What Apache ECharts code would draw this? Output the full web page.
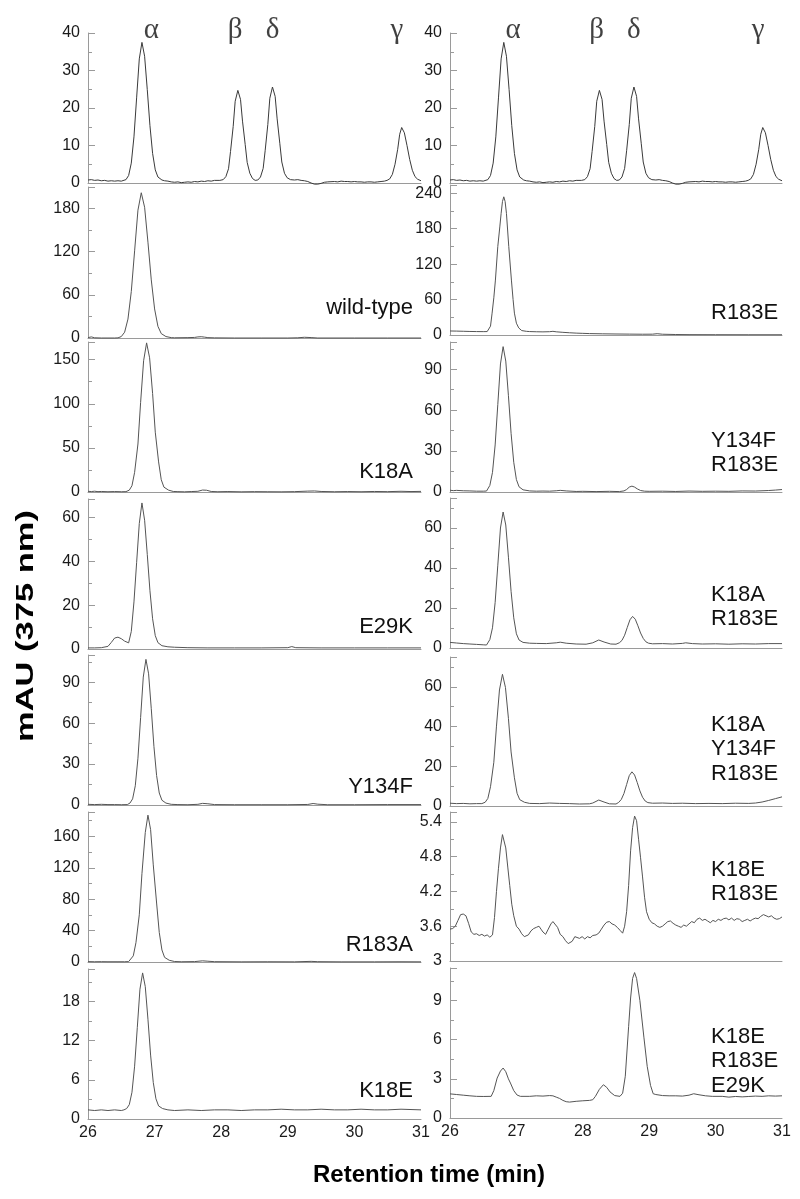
<!DOCTYPE html>
<html><head><meta charset="utf-8">
<script src="https://cdn.jsdelivr.net/npm/echarts@6.0.0/dist/echarts.min.js"></script>
<style>html,body{margin:0;padding:0;background:#fff}#c{width:800px;height:1199px}</style>
</head><body><div id="c"></div>
<script>
// ---------- DATA (retention time in min, absorbance in mAU) ----------
const standards = [[26.00,0.8],[26.05,0.9],[26.10,0.7],[26.15,0.8],[26.20,0.6],[26.25,0.7],[26.30,0.5],[26.35,0.6],[26.40,0.5],[26.45,0.6],[26.50,0.5],[26.53,0.5],[26.57,0.9],[26.61,2.0],[26.65,5.3],[26.69,12.3],[26.73,22.7],[26.77,33.1],[26.81,37.5],[26.85,33.8],[26.89,24.9],[26.93,15.3],[26.97,7.9],[27.01,3.5],[27.05,1.6],[27.11,0.8],[27.15,0.6],[27.20,0.5],[27.25,0.3],[27.30,0.2],[27.35,0.3],[27.40,0.1],[27.45,0.2],[27.50,0.3],[27.55,0.2],[27.60,0.4],[27.65,0.3],[27.70,0.5],[27.75,0.4],[27.80,0.6],[27.85,0.5],[27.90,0.7],[27.98,0.7],[28.03,0.9],[28.07,1.7],[28.11,3.8],[28.14,8.4],[28.18,15.1],[28.21,21.8],[28.25,24.7],[28.29,22.3],[28.32,16.5],[28.36,10.3],[28.39,5.5],[28.43,2.6],[28.47,1.2],[28.51,0.7],[28.55,0.8],[28.59,1.6],[28.63,3.9],[28.66,8.6],[28.70,15.6],[28.73,22.6],[28.77,25.6],[28.81,23.1],[28.84,17.1],[28.88,10.6],[28.91,5.6],[28.95,2.6],[28.99,1.4],[29.04,0.9],[29.10,0.8],[29.15,0.9],[29.20,0.7],[29.25,0.6],[29.30,0.4],[29.35,0.0],[29.40,-0.3],[29.45,-0.3],[29.50,-0.1],[29.55,0.2],[29.60,0.3],[29.70,0.4],[29.75,0.3],[29.80,0.5],[29.85,0.4],[29.90,0.4],[29.95,0.3],[30.00,0.4],[30.05,0.3],[30.10,0.3],[30.15,0.2],[30.20,0.3],[30.25,0.3],[30.30,0.2],[30.35,0.3],[30.40,0.4],[30.45,0.5],[30.49,0.7],[30.53,1.1],[30.57,2.3],[30.61,5.0],[30.65,9.0],[30.68,13.0],[30.71,14.8],[30.75,13.4],[30.79,10.0],[30.83,6.3],[30.87,3.4],[30.91,1.7],[30.95,1.0],[31.00,0.6]];

const wildType = [[26.00,0.5],[26.05,1.5],[26.10,0.3],[26.20,0.0],[26.30,0.0],[26.40,0.0],[26.45,0.2],[26.50,2.0],[26.55,8.1],[26.60,26.3],[26.65,64.6],[26.70,121.2],[26.75,177.8],[26.80,202],[26.85,181.8],[26.90,133.3],[26.95,80.8],[27.00,40.4],[27.05,16.2],[27.10,6.1],[27.17,2.0],[27.25,0.5],[27.30,0.3],[27.50,0.5],[27.60,0.8],[27.65,1.5],[27.70,1.8],[27.75,1.2],[27.80,0.5],[27.90,0.2],[28.20,0.0],[28.60,0.0],[29.00,0.0],[29.15,0.3],[29.25,1.0],[29.35,0.6],[29.45,0.0],[30.00,0.0],[30.50,0.0],[31.00,0.0]];

const k18a = [[26.00,0.8],[26.05,0.5],[26.10,0.9],[26.15,0.4],[26.20,0.6],[26.30,0.3],[26.40,0.5],[26.50,0.3],[26.57,0.4],[26.62,2.1],[26.66,7.1],[26.70,22.3],[26.75,54.4],[26.79,101.6],[26.835,148.8],[26.88,169],[26.925,152.1],[26.97,111.7],[27.01,67.8],[27.06,34.1],[27.10,13.9],[27.14,5.5],[27.21,2.1],[27.28,0.6],[27.35,0.4],[27.45,0.2],[27.55,0.5],[27.65,0.8],[27.72,2.2],[27.78,2.0],[27.85,0.6],[27.95,0.3],[28.10,0.5],[28.30,0.2],[28.50,0.4],[28.70,0.3],[28.90,0.2],[29.10,0.4],[29.30,1.0],[29.40,1.2],[29.50,0.6],[29.70,0.3],[29.90,0.5],[30.10,0.3],[30.30,0.6],[30.50,0.4],[30.70,0.8],[30.85,0.5],[31.00,0.7]];

const e29k = [[26.00,0.5],[26.10,0.5],[26.20,0.6],[26.30,1.2],[26.35,3.0],[26.40,5.0],[26.45,5.4],[26.50,4.7],[26.55,3.6],[26.61,2.8],[26.65,8.0],[26.69,21.5],[26.73,39.4],[26.77,57.3],[26.81,66.7],[26.85,58.8],[26.89,43.2],[26.93,26.6],[26.97,13.8],[27.01,6.1],[27.05,2.9],[27.11,1.5],[27.20,1.0],[27.30,0.8],[27.50,0.6],[27.80,0.5],[28.20,0.5],[28.60,0.5],[29.00,0.6],[29.06,1.1],[29.12,0.6],[29.50,0.5],[30.00,0.5],[30.50,0.5],[31.00,0.5]];

const y134f = [[26.00,0.5],[26.10,0.3],[26.20,0.5],[26.30,0.3],[26.40,0.3],[26.50,0.2],[26.59,0.3],[26.63,1.4],[26.67,4.5],[26.71,14.1],[26.75,34.3],[26.79,64.1],[26.83,93.8],[26.87,106.8],[26.91,96.2],[26.95,70.6],[26.99,42.9],[27.03,21.6],[27.07,8.8],[27.11,3.5],[27.17,1.4],[27.25,0.5],[27.35,0.3],[27.50,0.2],[27.65,0.5],[27.72,1.2],[27.80,0.9],[27.90,0.3],[28.20,0.2],[28.60,0.2],[29.00,0.2],[29.30,0.4],[29.38,1.1],[29.45,0.6],[29.60,0.2],[30.00,0.2],[30.50,0.3],[31.00,0.3]];

const r183a = [[26.00,0.5],[26.10,0.3],[26.20,0.4],[26.30,0.3],[26.45,0.3],[26.55,0.3],[26.61,0.5],[26.64,2.2],[26.68,7.8],[26.72,24.6],[26.77,60.1],[26.81,112.5],[26.86,164.9],[26.90,187],[26.94,168.6],[26.98,123.7],[27.03,75.1],[27.07,37.7],[27.11,15.3],[27.15,5.9],[27.22,2.2],[27.30,0.6],[27.40,0.3],[27.60,0.5],[27.72,1.5],[27.80,1.0],[27.90,0.4],[28.30,0.2],[28.70,0.3],[29.10,0.2],[29.35,0.8],[29.45,0.4],[29.80,0.2],[30.30,0.2],[30.70,0.3],[31.00,0.2]];

const k18e = [[26.00,1.4],[26.10,1.3],[26.20,1.4],[26.30,1.3],[26.40,1.4],[26.50,1.3],[26.54,1.4],[26.58,1.6],[26.62,2.2],[26.66,4.1],[26.70,8.1],[26.74,14.0],[26.78,19.9],[26.82,22.4],[26.86,20.3],[26.90,15.3],[26.94,9.8],[26.98,5.6],[27.02,3.1],[27.06,2.0],[27.12,1.6],[27.20,1.4],[27.30,1.3],[27.50,1.4],[27.70,1.3],[27.90,1.4],[28.10,1.4],[28.30,1.3],[28.50,1.4],[28.70,1.4],[28.90,1.5],[29.10,1.4],[29.30,1.4],[29.50,1.5],[29.70,1.4],[29.90,1.4],[30.10,1.5],[30.30,1.4],[30.50,1.4],[30.70,1.5],[31.00,1.4]];

const r183e = [[26.00,6.8],[26.10,6.6],[26.20,6.3],[26.30,6.0],[26.40,5.8],[26.50,5.7],[26.56,5.8],[26.59,8],[26.61,15],[26.634,37],[26.66,63],[26.684,93],[26.72,150],[26.75,183],[26.77,206],[26.79,226],[26.81,234],[26.83,226],[26.85,206],[26.885,150],[26.925,93],[26.95,60],[26.97,37],[27.00,20],[27.035,12],[27.08,7.5],[27.15,6.2],[27.20,5.8],[27.30,5.5],[27.40,5.3],[27.50,5.6],[27.55,6.2],[27.60,5.4],[27.70,4.5],[27.80,3.8],[27.90,3.2],[28.00,2.8],[28.10,2.4],[28.30,2.0],[28.50,1.7],[28.70,1.5],[28.90,1.3],[29.05,1.4],[29.12,2.2],[29.20,1.3],[29.40,0.8],[29.60,0.6],[30.00,0.5],[30.50,0.4],[31.00,0.4]];

const y134fR183e = [[26.00,1.3],[26.05,1.0],[26.10,1.2],[26.20,0.9],[26.30,0.8],[26.40,0.6],[26.50,0.6],[26.55,0.7],[26.56,1.0],[26.60,4.8],[26.64,14.4],[26.68,34.5],[26.72,64.2],[26.76,93.9],[26.80,106.6],[26.84,96],[26.88,70.6],[26.92,43],[26.96,21.8],[27.00,9.1],[27.04,3.8],[27.10,1.6],[27.20,0.8],[27.30,0.6],[27.40,0.7],[27.50,0.6],[27.60,0.9],[27.66,1.2],[27.75,0.8],[27.90,0.4],[28.00,0.5],[28.20,0.3],[28.40,0.5],[28.55,0.3],[28.62,0.8],[28.66,1.8],[28.70,3.6],[28.74,4.3],[28.78,3.6],[28.82,2.3],[28.87,1.1],[28.93,0.6],[29.00,0.5],[29.20,0.6],[29.40,0.4],[29.60,0.7],[29.80,0.5],[30.00,0.6],[30.20,0.5],[30.40,0.8],[30.60,0.7],[30.80,1.1],[30.90,1.4],[31.00,1.8]];

const k18aR183e = [[26.00,2.8],[26.10,2.5],[26.20,2.2],[26.30,2.0],[26.40,1.8],[26.50,1.6],[26.55,1.5],[26.56,2.2],[26.60,4.2],[26.64,10.1],[26.68,22.8],[26.72,41.4],[26.76,60],[26.80,68],[26.84,61.5],[26.88,45.4],[26.92,28.3],[26.96,15.1],[27.00,7.1],[27.04,4.0],[27.10,2.8],[27.20,2.4],[27.30,2.3],[27.45,2.2],[27.60,2.6],[27.66,2.9],[27.75,2.4],[27.90,2.0],[28.05,1.9],[28.15,2.6],[28.24,4.0],[28.32,3.0],[28.42,2.0],[28.50,1.9],[28.55,2.6],[28.59,3.8],[28.63,6.4],[28.67,10.3],[28.71,14.1],[28.75,15.8],[28.79,14.4],[28.83,11.1],[28.87,7.5],[28.91,4.8],[28.95,3.1],[28.99,2.4],[29.05,2.1],[29.20,2.2],[29.35,2.0],[29.50,2.3],[29.55,2.6],[29.65,2.2],[29.80,2.0],[30.00,2.1],[30.20,1.9],[30.40,2.1],[30.60,2.0],[30.80,2.2],[31.00,2.2]];

const k18aY134fR183e = [[26.00,1.4],[26.10,1.2],[26.20,1.3],[26.30,1.1],[26.40,1.2],[26.48,1.2],[26.53,1.9],[26.57,3.8],[26.61,9.7],[26.66,22],[26.70,40.2],[26.745,58.4],[26.79,66.3],[26.835,59.7],[26.88,44.1],[26.92,27.2],[26.97,14.2],[27.01,6.4],[27.05,3.2],[27.12,1.9],[27.20,1.3],[27.35,1.2],[27.50,1.5],[27.65,1.3],[27.80,1.2],[27.95,1.0],[28.10,1.1],[28.15,1.5],[28.24,3.0],[28.32,2.0],[28.40,1.1],[28.50,1.0],[28.54,1.8],[28.58,3.3],[28.62,6.3],[28.66,10.8],[28.70,15.3],[28.74,17.2],[28.78,15.6],[28.82,11.8],[28.86,7.6],[28.90,4.4],[28.94,2.5],[28.98,1.7],[29.05,1.4],[29.20,1.5],[29.35,1.3],[29.50,1.4],[29.70,1.2],[29.90,1.3],[30.10,1.2],[30.30,1.4],[30.50,1.3],[30.60,1.5],[30.70,2.0],[30.80,2.8],[30.90,3.7],[31.00,4.6]];

const k18eR183e = [[26.00,3.55],[26.04,3.56],[26.08,3.6],[26.12,3.7],[26.16,3.8],[26.20,3.81],[26.24,3.78],[26.28,3.65],[26.32,3.5],[26.36,3.46],[26.40,3.47],[26.44,3.44],[26.48,3.46],[26.52,3.43],[26.56,3.45],[26.60,3.41],[26.64,3.45],[26.67,3.75],[26.70,4.2],[26.73,4.6],[26.76,4.95],[26.79,5.18],[26.81,5.16],[26.84,4.95],[26.87,4.62],[26.90,4.3],[26.93,3.98],[26.96,3.78],[27.00,3.6],[27.04,3.55],[27.08,3.47],[27.12,3.42],[27.15,3.39],[27.18,3.45],[27.22,3.52],[27.26,3.56],[27.30,3.58],[27.34,3.6],[27.37,3.55],[27.40,3.5],[27.44,3.46],[27.48,3.55],[27.52,3.64],[27.55,3.68],[27.58,3.66],[27.62,3.58],[27.66,3.46],[27.70,3.42],[27.74,3.35],[27.78,3.3],[27.81,3.28],[27.84,3.34],[27.88,3.42],[27.91,3.44],[27.95,3.39],[27.99,3.42],[28.03,3.38],[28.07,3.42],[28.11,3.40],[28.15,3.44],[28.20,3.45],[28.24,3.48],[28.28,3.55],[28.32,3.62],[28.36,3.67],[28.40,3.68],[28.44,3.64],[28.48,3.62],[28.52,3.58],[28.56,3.53],[28.60,3.48],[28.63,3.6],[28.66,3.85],[28.69,4.3],[28.72,4.9],[28.75,5.3],[28.78,5.5],[28.81,5.42],[28.84,5.1],[28.87,4.78],[28.90,4.45],[28.93,4.1],[28.96,3.85],[29.00,3.72],[29.04,3.66],[29.08,3.64],[29.12,3.6],[29.16,3.58],[29.20,3.6],[29.24,3.64],[29.28,3.68],[29.32,3.69],[29.36,3.65],[29.40,3.62],[29.44,3.6],[29.48,3.58],[29.52,3.62],[29.56,3.6],[29.60,3.64],[29.64,3.68],[29.68,3.66],[29.72,3.72],[29.76,3.74],[29.80,3.7],[29.84,3.72],[29.88,3.69],[29.92,3.66],[29.96,3.7],[30.00,3.68],[30.04,3.72],[30.08,3.7],[30.12,3.73],[30.16,3.74],[30.20,3.71],[30.24,3.74],[30.28,3.7],[30.32,3.73],[30.36,3.72],[30.40,3.68],[30.44,3.7],[30.48,3.72],[30.52,3.69],[30.56,3.72],[30.60,3.74],[30.64,3.73],[30.68,3.77],[30.72,3.8],[30.76,3.78],[30.80,3.76],[30.84,3.78],[30.88,3.74],[30.92,3.72],[30.96,3.73],[31.00,3.76]];

const k18eR183eE29k = [[26.00,1.85],[26.10,1.8],[26.20,1.75],[26.30,1.7],[26.40,1.66],[26.50,1.65],[26.62,1.66],[26.66,2.1],[26.71,3.06],[26.76,3.6],[26.80,3.83],[26.84,3.55],[26.88,3.0],[26.91,2.68],[26.96,2.1],[27.01,1.76],[27.06,1.66],[27.20,1.66],[27.30,1.7],[27.40,1.68],[27.50,1.72],[27.55,1.7],[27.60,1.6],[27.65,1.5],[27.70,1.35],[27.75,1.25],[27.80,1.22],[27.90,1.28],[28.00,1.32],[28.10,1.35],[28.15,1.4],[28.19,1.66],[28.25,2.2],[28.31,2.55],[28.36,2.35],[28.41,2.0],[28.48,1.72],[28.56,1.66],[28.60,1.9],[28.64,3.2],[28.69,7.0],[28.72,9.2],[28.75,10.7],[28.78,11.15],[28.81,10.7],[28.86,9.0],[28.92,6.2],[28.97,3.96],[29.02,2.5],[29.06,1.86],[29.10,1.8],[29.20,1.72],[29.30,1.7],[29.40,1.7],[29.50,1.68],[29.60,1.75],[29.67,1.86],[29.75,1.78],[29.85,1.7],[29.95,1.66],[30.10,1.66],[30.20,1.6],[30.30,1.65],[30.40,1.62],[30.50,1.65],[30.60,1.68],[30.70,1.66],[30.80,1.7],[30.90,1.68],[31.00,1.7]];

// tick labels
const timeTicks = ['26','27','28','29','30','31'];
const ticksStd = ['0','10','20','30','40'];
const ticksWildType = ['0','60','120','180'];
const ticksK18A = ['0','50','100','150'];
const ticksE29K = ['0','20','40','60'];
const ticksY134F = ['0','30','60','90'];
const ticksR183A = ['0','40','80','120','160'];
const ticksK18E = ['0','6','12','18'];
const ticksR183E = ['0','60','120','180','240'];
const ticksY134FR183E = ['0','30','60','90'];
const ticksK18AR183E = ['0','20','40','60'];
const ticksK18AY134FR183E = ['0','20','40','60'];
const ticksK18ER183E = ['3','3.6','4.2','4.8','5.4'];
const ticksK18ER183EE29K = ['0','3','6','9'];

// peak names over the standards trace
const peakNames = ['α','β','δ','γ'];
const peakNameTimes = [26.95, 28.21, 28.77, 30.64];

// sample names
const leftNames = ['wild-type','K18A','E29K','Y134F','R183A','K18E'];
const rightNames = ['R183E','Y134F\nR183E','K18A\nR183E','K18A\nY134F\nR183E','K18E\nR183E','K18E\nR183E\nE29K'];

// ---------- LAYOUT ----------
const colLeft = [88, 450];
const colWidth = [333, 332];
const tops = [[33,187,342,499,655,812,969],[33,185,342,498,657,812,968]];
const bottoms = [[183,338,492,649,805,962,1119],[183,335,492,648,806,961,1118]];
const leftNameY = [308,472,627,787,945,1091];
const rightNameY = [313,453,607,749,882,1061];

const panels = [
  [
    {data: standards, min:0, max:40, interval:10, ticks: ticksStd},
    {data: wildType, min:0, max:210, interval:60, ticks: ticksWildType},
    {data: k18a, min:0, max:170, interval:50, ticks: ticksK18A},
    {data: e29k, min:0, max:68.5, interval:20, ticks: ticksE29K},
    {data: y134f, min:0, max:110, interval:30, ticks: ticksY134F},
    {data: r183a, min:0, max:191, interval:40, ticks: ticksR183A},
    {data: k18e, min:0, max:23, interval:6, ticks: ticksK18E}
  ],
  [
    {data: standards, min:0, max:40, interval:10, ticks: ticksStd},
    {data: r183e, min:0, max:254, interval:60, ticks: ticksR183E},
    {data: y134fR183e, min:0, max:110, interval:30, ticks: ticksY134FR183E},
    {data: k18aR183e, min:0, max:75, interval:20, ticks: ticksK18AR183E},
    {data: k18aY134fR183e, min:0, max:75, interval:20, ticks: ticksK18AY134FR183E},
    {data: k18eR183e, min:3, max:5.57, interval:0.6, ticks: ticksK18ER183E},
    {data: k18eR183eE29k, min:0, max:11.5, interval:3, ticks: ticksK18ER183EE29K}
  ]
];

const FONT = 'Liberation Sans, Arial, sans-serif';
const AXIS_COLOR = '#9a9a9a';

const grids = [], xAxes = [], yAxes = [], series = [];
function labelFrom(list){
  return function(v){
    const s = list.find(t => Math.abs(parseFloat(t) - v) < 1e-6);
    return s === undefined ? '' : s;
  };
}
let idx = 0;
const topIdx = [];
for (let c = 0; c < 2; c++) {
  for (let i = 0; i < 7; i++) {
    const p = panels[c][i];
    if (i === 0) topIdx.push(idx);
    grids.push({left: colLeft[c], width: colWidth[c], top: tops[c][i], height: bottoms[c][i] - tops[c][i]});
    xAxes.push({
      type:'value', gridIndex: idx, min:26, max:31, interval:1,
      axisLine:{show:true, onZero:false, lineStyle:{color:AXIS_COLOR, width:1}},
      axisTick:{show:false}, splitLine:{show:false},
      axisLabel:{show: i === 6, fontSize:16, color:'#1a1a1a', fontFamily:FONT, margin:6, formatter: labelFrom(timeTicks)}
    });
    yAxes.push({
      type:'value', gridIndex: idx, min:p.min, max:p.max, interval:p.interval,
      axisLine:{show:true, lineStyle:{color:AXIS_COLOR, width:1}},
      axisTick:{show:true, inside:true, length:7, lineStyle:{color:AXIS_COLOR}},
      minorTick:{show:true, splitNumber:2, length:4, lineStyle:{color:AXIS_COLOR}},
      splitLine:{show:false}, minorSplitLine:{show:false},
      axisLabel:{fontSize:16, color:'#1a1a1a', fontFamily:FONT, margin:8, formatter: labelFrom(p.ticks)}
    });
    series.push({
      type:'line', xAxisIndex: idx, yAxisIndex: idx, data: p.data,
      showSymbol:false, symbol:'none', clip:false, animation:false,
      lineStyle:{color: i === 0 ? '#3a3a3a' : '#555555', width: 1}
    });
    idx++;
  }
}
// peak letters on the two standards panels
for (const g of topIdx) {
  series.push({
    type:'scatter', xAxisIndex:g, yAxisIndex:g, symbolSize:0, animation:false,
    data: peakNames.map((n,k)=>({name:n, value:[peakNameTimes[k], 40]})),
    label:{show:true, position:'inside', offset:[0,-3], formatter:'{b}', fontSize:29,
           fontFamily:'Liberation Serif, Times New Roman, serif', color:'#111'}
  });
}

const graphic = [];
leftNames.forEach((n,k)=>graphic.push({type:'text', x:413, y:leftNameY[k],
  style:{text:n, font:'22px ' + FONT, fill:'#111', textAlign:'right', textVerticalAlign:'middle'}}));
rightNames.forEach((n,k)=>graphic.push({type:'text', x:711, y:rightNameY[k],
  style:{text:n, font:'22px ' + FONT, fill:'#111', textAlign:'left', textVerticalAlign:'middle', lineHeight:24.5}}));
graphic.push({type:'text', x:27, y:626, rotation:Math.PI/2, scaleX:1.5,
  style:{text:'mAU (375 nm)', font:'bold 23px ' + FONT, fill:'#000', textAlign:'center', textVerticalAlign:'middle'}});
graphic.push({type:'text', x:429, y:1175,
  style:{text:'Retention time (min)', font:'bold 24px ' + FONT, fill:'#000', textAlign:'center', textVerticalAlign:'middle'}});

const chart = echarts.init(document.getElementById('c'), null, {renderer:'canvas'});
chart.setOption({
  animation:false, backgroundColor:'#fff',
  grid: grids, xAxis: xAxes, yAxis: yAxes, series: series, graphic: graphic
});
</script></body></html>
